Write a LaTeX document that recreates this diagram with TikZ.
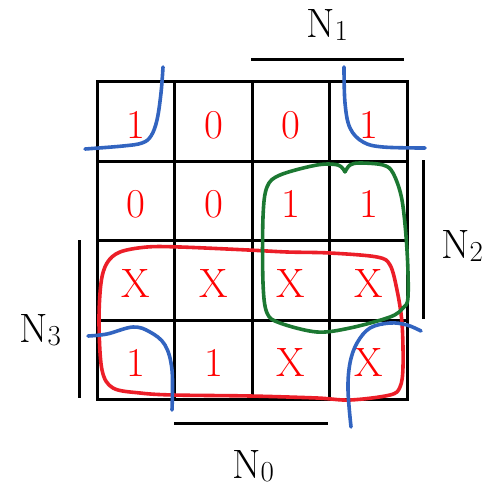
\documentclass[tikz,border=0pt]{standalone}
\usetikzlibrary{positioning}
\definecolor{loopred}{RGB}{236,30,40}
\definecolor{loopblue}{RGB}{50,100,192}
\definecolor{loopgreen}{RGB}{28,120,50}
\newcommand{\Nvar}[1]{N\raisebox{-3pt}{\fontsize{29}{29}\selectfont #1}}
\begin{document}
\begin{tikzpicture}[x=1pt, y=-1pt, every node/.style={font=\fontsize{41}{41}\selectfont},
  cell/.style={draw, line width=2.6pt, minimum width=77.5pt, minimum height=79.5pt, inner sep=0pt, outer sep=0pt, text height=33pt, text depth=0pt, text=red},
  bar/.style={line width=3pt},
  grp/.style={line width=3.6pt, line cap=round, line join=round}]
  \useasboundingbox (0,0) rectangle (495,487);
  % map cells, row by row
  \node[cell] (c11) at (136,121.5) {1};
  \node[cell] (c12) at (213.5,121.5) {0};
  \node[cell] (c13) at (291,121.5) {0};
  \node[cell] (c14) at (368.5,121.5) {1};
  \node[cell] (c21) at (136,201) {0};
  \node[cell] (c22) at (213.5,201) {0};
  \node[cell] (c23) at (291,201) {1};
  \node[cell] (c24) at (368.5,201) {1};
  \node[cell] (c31) at (136,280.5) {X};
  \node[cell] (c32) at (213.5,280.5) {X};
  \node[cell] (c33) at (291,280.5) {X};
  \node[cell] (c34) at (368.5,280.5) {X};
  \node[cell] (c41) at (136,360) {1};
  \node[cell] (c42) at (213.5,360) {1};
  \node[cell] (c43) at (291,360) {X};
  \node[cell] (c44) at (368.5,360) {X};
  % variable bars
  \node (n1) at (327,25) {\Nvar{1}};
  \draw[bar] (251,60) -- (404,60);
  \node (n2) at (462,246) {\Nvar{2}};
  \draw[bar] (423,160) -- (423,319);
  \node (n3) at (40,330) {\Nvar{3}};
  \draw[bar] (79,240) -- (79,398);
  \node (n0) at (253,466) {\Nvar{0}};
  \draw[bar] (174,423) -- (328,423);
  % groups
  \draw[grp, loopred] plot[smooth cycle, tension=0.55] coordinates {(248,250) (287,252) (330,253) (377,257) (390,265) (397,290) (402,323) (403,367) (400,387) (390,395) (350,400) (317,398) (250,396) (173,395) (140,393) (113,388) (102,370) (99,323) (101,283) (107,263) (120,252) (147,247) (180,247)};
  \draw[grp, loopgreen] plot[smooth, tension=0.55] coordinates {(345,172) (350,165) (360,163) (383,165) (393,173) (402,200) (407,250) (408,297) (403,308) (390,317) (350,328) (317,332) (280,323) (267,313) (263,283) (263,217) (267,187) (280,175) (317,165) (338,165) (345,172)};
  \draw[grp, loopblue] plot[smooth, tension=0.6] coordinates {(163,67) (161,93) (157,120) (151,136) (142,143) (123,146) (85,149)};
  \draw[grp, loopblue] plot[smooth, tension=0.6] coordinates {(344,67) (345,103) (350,128) (363,142) (383,147) (425,148)};
  \draw[grp, loopblue] plot[smooth, tension=0.6] coordinates {(88,336) (107,334) (133,327) (150,332) (165,345) (172,370) (172,410)};
  \draw[grp, loopblue] plot[smooth, tension=0.6] coordinates {(421,331) (407,325) (390,323) (370,328) (357,343) (350,363) (348,390) (351,427)};
\end{tikzpicture}
\end{document}
